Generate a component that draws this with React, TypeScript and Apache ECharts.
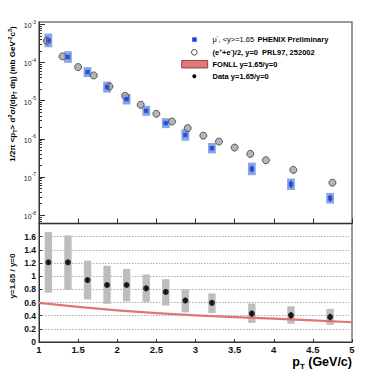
import React, { useEffect, useRef } from 'react';
import * as echarts from 'echarts';

const FONT = '"Liberation Sans", Arial, Helvetica, sans-serif';

// Top panel: mu (y=1.65) spectrum
const muX = [1.12, 1.37, 1.62, 1.87, 2.12, 2.37, 2.62, 2.87, 3.21, 3.72, 4.22, 4.72];
const muY = [3.78e-4, 1.39e-4, 5.6e-5, 2.26e-5, 1.09e-5, 5.4e-6, 2.57e-6, 1.26e-6, 5.66e-7, 1.62e-7, 6.43e-8, 2.76e-8];
const muSys = [1.51, 1.42, 1.35, 1.39, 1.37, 1.35, 1.35, 1.42, 1.37, 1.46, 1.41, 1.38];
const muStat = [1.02, 1.02, 1.03, 1.03, 1.04, 1.05, 1.06, 1.08, 1.1, 1.22, 1.25, 1.22];

// Top panel: (e+ + e-)/2, y=0
const eeX = [1.1, 1.3, 1.5, 1.7, 1.9, 2.1, 2.3, 2.5, 2.7, 2.9, 3.1, 3.3, 3.5, 3.7, 3.9, 4.25, 4.75];
const eeY = [3.71e-4, 1.44e-4, 7.57e-5, 4.56e-5, 2.34e-5, 1.34e-5, 7.76e-6, 4.51e-6, 2.83e-6, 1.9e-6, 1.21e-6, 8.45e-7, 5.88e-7, 4.02e-7, 2.74e-7, 1.53e-7, 7.08e-8];

// Bottom panel: ratio y=1.65 / y=0
const ratioY = [1.21, 1.21, 0.94, 0.866, 0.866, 0.815, 0.76, 0.63, 0.595, 0.43, 0.405, 0.38];
const ratioSysLo = [0.75, 0.79, 0.646, 0.58, 0.615, 0.61, 0.554, 0.45, 0.44, 0.29, 0.277, 0.26];
const ratioSysHi = [1.67, 1.62, 1.235, 1.158, 1.108, 1.026, 0.954, 0.8, 0.738, 0.585, 0.543, 0.503];
const ratioStat = [0.02, 0.02, 0.03, 0.03, 0.03, 0.03, 0.04, 0.04, 0.04, 0.05, 0.05, 0.05];

// FONLL band
const fonllX = [1, 1.5, 2, 2.5, 3, 3.5, 4, 4.5, 5];
const fonllLo = [0.578, 0.517, 0.463, 0.423, 0.388, 0.361, 0.337, 0.31, 0.283];
const fonllHi = [0.612, 0.551, 0.497, 0.457, 0.422, 0.395, 0.371, 0.344, 0.317];

// Axis ticks
const yMajor = [1e-8, 1e-7, 1e-6, 1e-5, 1e-4, 1e-3];
const yMinorMult = [2, 3, 4, 5, 6, 7, 8, 9];
const yMin = Math.pow(10, -8.22);
const yMax = Math.pow(10, -2.94);

const legendTexts = [
  '{l|μ}{ls|-}{l|, <y>=1.65} {b|PHENIX Preliminary}',
  '{b|(e}{bs|+}{b|+e}{bs|-}{b|)/2, y=0  PRL97, 252002}',
  '{b|FONLL y=1.65/y=0}',
  '{b|Data y=1.65/y=0}',
];

export default function App() {
  const ref = useRef<HTMLDivElement>(null);
  useEffect(() => {
    document.body.style.margin = '0';
    const chart = echarts.init(ref.current!, null, { renderer: 'svg' });
    const yMinor: number[] = [];
    for (let e = -9; e <= -3; e++) {
      for (const m of yMinorMult) {
        const v = m * Math.pow(10, e);
        if (v > yMin && v < yMax) yMinor.push(v);
      }
    }
    const axisCol = '#333';
    const rowY = [39.5, 52.3, 64, 76.3];
    const richBase = {
      l: { fontSize: 7.5, fontFamily: FONT, color: '#666', lineHeight: 10, verticalAlign: 'middle' },
      ls: { fontSize: 5, fontFamily: FONT, color: '#666', lineHeight: 10, verticalAlign: 'top' },
      b: { fontSize: 7.5, fontFamily: FONT, fontWeight: 'bold', color: '#111', lineHeight: 10, verticalAlign: 'middle' },
      bs: { fontSize: 5, fontFamily: FONT, fontWeight: 'bold', color: '#111', lineHeight: 10, verticalAlign: 'top' },
    };
    const option: any = {
      animation: false,
      backgroundColor: '#fff',
      grid: [
        { left: 39, right: 39, top: 22, height: 201.5, show: true, borderColor: '#777', borderWidth: 1.5, backgroundColor: 'transparent' },
        { left: 39, right: 39, top: 223.5, bottom: 33, show: true, borderColor: '#777', borderWidth: 1.5, backgroundColor: 'transparent' },
      ],
      xAxis: [
        {
          gridIndex: 0, type: 'value', min: 1, max: 5, interval: 0.5,
          axisLine: { lineStyle: { color: axisCol, width: 1 } },
          axisTick: { inside: true, length: 5, lineStyle: { color: axisCol } },
          axisLabel: { show: false },
          splitLine: { show: false },
        },
        {
          gridIndex: 1, type: 'value', min: 1, max: 5, interval: 0.5,
          axisLine: { lineStyle: { color: axisCol, width: 1 } },
          axisTick: { inside: true, length: 3, lineStyle: { color: axisCol } },
          axisLabel: { fontFamily: FONT, fontWeight: 'bold', fontSize: 9.5, color: '#111', margin: 2, showMinLabel: true, showMaxLabel: true },
          splitLine: { show: false },
        },
      ],
      yAxis: [
        {
          gridIndex: 0, type: 'log', logBase: 10, min: yMin, max: yMax,
          axisLine: { lineStyle: { color: axisCol, width: 1 } },
          axisTick: { inside: true, length: 6, customValues: yMajor, lineStyle: { color: axisCol } },
          axisLabel: {
            customValues: yMajor, margin: 3,
            formatter: (v: number) => `{b|10}{s|${Math.round(Math.log10(v))}}`,
            rich: {
              b: { fontSize: 7, fontFamily: FONT, color: '#222', lineHeight: 10, verticalAlign: 'bottom' },
              s: { fontSize: 5, fontFamily: FONT, color: '#222', lineHeight: 10, verticalAlign: 'top' },
            },
          },
          splitLine: { show: false },
        },
        {
          gridIndex: 0, type: 'log', logBase: 10, min: yMin, max: yMax, position: 'left', offset: 0,
          axisLine: { show: false },
          axisTick: { show: true, inside: true, length: 3, customValues: yMinor, lineStyle: { color: axisCol } },
          axisLabel: { show: false },
          splitLine: { show: false },
        },
        {
          gridIndex: 1, type: 'value', min: 0, max: 1.8, interval: 0.2,
          axisLine: { lineStyle: { color: axisCol, width: 1 } },
          axisTick: { inside: true, length: 3, lineStyle: { color: axisCol } },
          axisLabel: {
            fontFamily: FONT, fontWeight: 'bold', fontSize: 8.5, color: '#111', margin: 3,
            formatter: (v: number) => (Math.abs(v - 1.8) < 1e-6 ? '' : String(Math.round(v * 10) / 10)),
          },
          splitLine: { show: true, showMinLine: false, showMaxLine: false, lineStyle: { color: '#aaa', type: [1.5, 1.5], width: 1 } },
        },
      ],
      series: [
        {
          type: 'custom', xAxisIndex: 0, yAxisIndex: 0, z: 2,
          data: muX.map((x, i) => [x, muY[i], muSys[i]]),
          encode: { x: 0, y: 1 },
          renderItem: (p: any, api: any) => {
            const x = api.value(0), y = api.value(1), f = api.value(2);
            const a = api.coord([x - 0.05, y * f]);
            const b = api.coord([x + 0.05, y / f]);
            return { type: 'rect', shape: { x: a[0], y: a[1], width: b[0] - a[0], height: b[1] - a[1] }, style: { fill: '#88a8e2' } };
          },
        },
        {
          type: 'scatter', xAxisIndex: 0, yAxisIndex: 0, z: 3,
          data: eeX.map((x, i) => [x, eeY[i]]),
          symbol: 'circle', symbolSize: 7,
          itemStyle: { color: '#a3a3a3', borderColor: '#3a3a3a', borderWidth: 1 },
        },
        {
          type: 'custom', xAxisIndex: 0, yAxisIndex: 0, z: 4,
          data: muX.map((x, i) => [x, muY[i], muStat[i]]),
          encode: { x: 0, y: 1 },
          renderItem: (p: any, api: any) => {
            const x = api.value(0), y = api.value(1), f = api.value(2);
            const a = api.coord([x, y * f]);
            const b = api.coord([x, y / f]);
            return { type: 'line', shape: { x1: a[0], y1: a[1], x2: b[0], y2: b[1] }, style: { stroke: '#222', lineWidth: 1 } };
          },
        },
        {
          type: 'scatter', xAxisIndex: 0, yAxisIndex: 0, z: 5,
          data: muX.map((x, i) => [x, muY[i]]),
          symbol: 'rect', symbolSize: 4.5,
          itemStyle: { color: '#1d3ef0' },
        },
        {
          type: 'custom', xAxisIndex: 1, yAxisIndex: 2, z: 2,
          data: muX.map((x, i) => [x, ratioSysLo[i], ratioSysHi[i]]),
          encode: { x: 0, y: [1, 2] },
          renderItem: (p: any, api: any) => {
            const x = api.value(0), lo = api.value(1), hi = api.value(2);
            const a = api.coord([x - 0.047, hi]);
            const b = api.coord([x + 0.047, lo]);
            return { type: 'rect', shape: { x: a[0], y: a[1], width: b[0] - a[0], height: b[1] - a[1] }, style: { fill: '#bdbdbd' } };
          },
        },
        {
          type: 'custom', xAxisIndex: 1, yAxisIndex: 2, z: 3,
          data: [[fonllX[0], fonllLo[0]]],
          encode: { x: 0, y: 1 },
          renderItem: (p: any, api: any) => {
            const pts: number[][] = [];
            fonllX.forEach((x, i) => pts.push(api.coord([x, fonllHi[i]])));
            for (let i = fonllX.length - 1; i >= 0; i--) pts.push(api.coord([fonllX[i], fonllLo[i]]));
            return { type: 'polygon', shape: { points: pts }, style: { fill: '#e27474' } };
          },
        },
        {
          type: 'custom', xAxisIndex: 1, yAxisIndex: 2, z: 4,
          data: muX.map((x, i) => [x, ratioY[i], ratioStat[i]]),
          encode: { x: 0, y: 1 },
          renderItem: (p: any, api: any) => {
            const x = api.value(0), y = api.value(1), e = api.value(2);
            const a = api.coord([x, y + e]);
            const b = api.coord([x, y - e]);
            return { type: 'line', shape: { x1: a[0], y1: a[1], x2: b[0], y2: b[1] }, style: { stroke: '#000', lineWidth: 1 } };
          },
        },
        {
          type: 'scatter', xAxisIndex: 1, yAxisIndex: 2, z: 5,
          data: muX.map((x, i) => [x, ratioY[i]]),
          symbol: 'circle', symbolSize: 6,
          itemStyle: { color: '#000' },
        },
      ],
      graphic: [
        // legend markers
        { type: 'rect', shape: { x: 192.2, y: 37.3, width: 4.5, height: 4.5 }, style: { fill: '#1d3ef0' } },
        { type: 'circle', shape: { cx: 194.3, cy: rowY[1], r: 2.8 }, style: { fill: '#fff', stroke: '#111', lineWidth: 0.8 } },
        { type: 'rect', shape: { x: 181.7, y: 60.5, width: 26, height: 7.5 }, style: { fill: '#dd7a78', stroke: '#7a2a2a', lineWidth: 0.8 } },
        { type: 'circle', shape: { cx: 194.3, cy: rowY[3], r: 2 }, style: { fill: '#000' } },
        ...legendTexts.map((t, i) => ({
          type: 'text', x: 212.5, y: rowY[i],
          style: { text: t, rich: richBase, verticalAlign: 'middle', align: 'left' },
        })),
        // y title top
        {
          type: 'text', x: 12, y: 94, rotation: Math.PI / 2,
          style: {
            text: '{b|1/2π <p}{sub|T}{b|> d}{sup|2}{b|σ/(dp}{sub|T}{b| dη) (mb GeV}{sup|-2}{b|c}{sup|3}{b|)}',
            align: 'center', verticalAlign: 'middle',
            rich: {
              b: { fontSize: 8, fontFamily: FONT, fontWeight: 'bold', color: '#111', lineHeight: 11, verticalAlign: 'middle' },
              sub: { fontSize: 5.5, fontFamily: FONT, fontWeight: 'bold', color: '#111', lineHeight: 11, verticalAlign: 'bottom' },
              sup: { fontSize: 5.5, fontFamily: FONT, fontWeight: 'bold', color: '#111', lineHeight: 11, verticalAlign: 'top' },
            },
          },
        },
        // y title bottom
        {
          type: 'text', x: 12, y: 276, rotation: Math.PI / 2,
          style: { text: 'y=1.65 / y=0', align: 'center', verticalAlign: 'middle', fontSize: 8, fontWeight: 'bold', fontFamily: FONT, fill: '#111' },
        },
        // x title
        {
          type: 'text', x: 352, y: 362,
          style: {
            text: '{b|p}{sub|T}{b| (GeV/c)}',
            align: 'right', verticalAlign: 'middle',
            rich: {
              b: { fontSize: 12.5, fontFamily: FONT, fontWeight: 'bold', color: '#111', lineHeight: 16, verticalAlign: 'middle' },
              sub: { fontSize: 8, fontFamily: FONT, fontWeight: 'bold', color: '#111', lineHeight: 16, verticalAlign: 'bottom' },
            },
          },
        },
      ],
    };
    chart.setOption(option);
    return () => chart.dispose();
  }, []);
  return <div ref={ref} style={{ width: 391, height: 375 }} />;
}
